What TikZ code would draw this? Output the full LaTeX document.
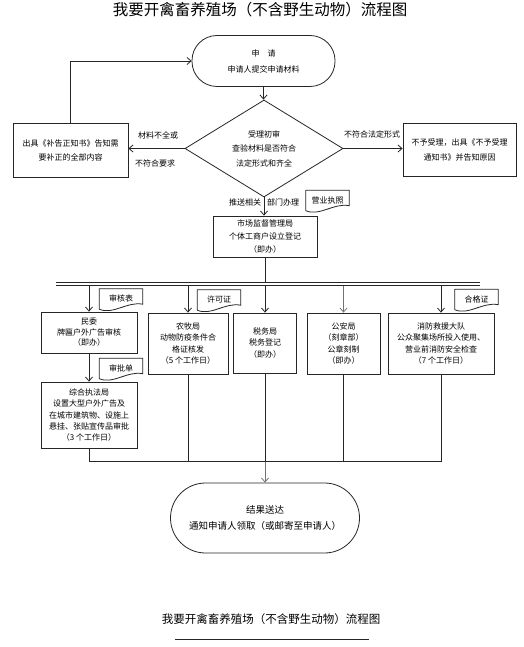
\documentclass[tikz,border=0pt]{standalone}
\usepackage{fontspec}
\setmainfont{Noto Sans CJK SC}
\usetikzlibrary{shapes.geometric,arrows.meta,calc}
\newcommand\mydoc[4]{%
  \node[docn] (#1) at (#2,#3) {#4};
  \draw[line] ([yshift=-1pt]#1.south west) -- (#1.north west) -- (#1.north east) -- ([yshift=4pt]#1.south east)
    .. controls ([xshift=-16pt,yshift=7pt]#1.south east) and ([xshift=14pt,yshift=-7pt]#1.south west) .. ([yshift=-1pt]#1.south west);
}
\begin{document}
\begin{tikzpicture}[x=1pt,y=-1pt,
  line/.style={draw=black!85, line width=0.8pt},
  arr/.style={line, -{Straight Barb[length=4pt,width=7pt]}},
  garr/.style={arr, draw=black!55},
  box/.style={line, rectangle, align=center, inner sep=0pt, font=\fontsize{8}{12}\selectfont},
  docn/.style={rectangle, inner sep=0pt, minimum width=43pt, minimum height=19pt, font=\fontsize{8}{10}\selectfont},
  lbl/.style={inner sep=0pt, font=\fontsize{8}{10}\selectfont},
]
\useasboundingbox (0,0) rectangle (524,647);
\fill[white] (0,0) rectangle (524,647);

\node[inner sep=0pt, font=\fontsize{15.5}{18}\selectfont] (title) at (260,10) {我要开禽畜养殖场（不含野生动物）流程图};

\node[box, minimum width=143pt, minimum height=51pt, rounded corners=25pt, font=\fontsize{8}{16}\selectfont] (start) at (263.5,61) {申\quad 请\\申请人提交申请材料};

\node[line, diamond, aspect=1.63, minimum width=158pt, minimum height=97pt, inner sep=0pt, align=center, font=\fontsize{8}{14.5}\selectfont] (check) at (264,148.5) {受理初审\\查验材料是否符合\\法定形式和齐全};

\node[box, minimum width=115pt, minimum height=54pt, font=\fontsize{8}{14}\selectfont] (left) at (70.5,150) {出具《补告正知书》告知需\\要补正的全部内容};
\node[box, minimum width=113pt, minimum height=53pt, font=\fontsize{8}{15}\selectfont] (right) at (459.5,149.5) {不予受理，出具《不予受理\\通知书》并告知原因};

\draw[arr] (left.north) -- (left.north |- start.west) -- (start.west);
\draw[arr] (start.south) -- (start.south |- check.north);
\draw[arr] (check.west) -- (check.west -| left.east);
\node[lbl] (l1) at (158,135) {材料不全或};
\node[lbl] (l2) at (155,163) {不符合要求};
\draw[arr] (check.east) -- (check.east -| right.west);
\node[lbl] (l3) at (372,134) {不符合法定形式};

\node[box, minimum width=104pt, minimum height=41pt, font=\fontsize{8}{13}\selectfont] (market) at (265,236.5) {市场监督管理局\\个体工商户设立登记\\（即办）};
\draw[arr] (check.south) -- (check.south |- market.north);
\node[lbl] (l4) at (245,202) {推送相关};
\node[lbl] (l5) at (283,202) {部门办理};
\mydoc{d1}{327.5}{200}{营业执照}

\coordinate (b1L) at (56,282);
\coordinate (b1R) at (480,282);
\coordinate (b2L) at (56,285.5);
\coordinate (b2R) at (480,285.5);
\draw[line] (b1L) -- (b1R);
\draw[line] (b2L) -- (b2R);
\draw[line] (market.south) -- (market.south |- b1L);

\node[box, minimum width=96pt, minimum height=41pt, font=\fontsize{8}{10.5}\selectfont] (minwei) at (89,332.5) {民委\\牌匾户外广告审核\\（即办）};
\node[box, minimum width=80pt, minimum height=61pt, font=\fontsize{8}{11.5}\selectfont] (nongmu) at (188,343.5) {农牧局\\动物防疫条件合\\格证核发\\（5 个工作日）};
\node[box, minimum width=63pt, minimum height=60pt, font=\fontsize{8}{11.5}\selectfont] (shuiwu) at (265,343) {税务局\\税务登记\\（即办）};
\node[box, minimum width=73pt, minimum height=61pt, font=\fontsize{8}{11.5}\selectfont] (gongan) at (343.5,343.5) {公安局\\（刻章部）\\公章刻制\\（即办）};
\node[box, minimum width=106pt, minimum height=61pt, font=\fontsize{8}{11.5}\selectfont] (xiaofang) at (441,343.5) {消防救援大队\\公众聚集场所投入使用、\\营业前消防安全检查\\（7 个工作日）};
\node[box, minimum width=96pt, minimum height=66pt, font=\fontsize{8}{11.3}\selectfont] (zonghe) at (89,415) {综合执法局\\设置大型户外广告及\\在城市建筑物、设施上\\悬挂、张贴宣传品审批\\（3 个工作日）};

\draw[arr] (minwei.north |- b2L) -- (minwei.north);
\draw[arr] (nongmu.north |- b2L) -- (nongmu.north);
\draw[arr] (shuiwu.north |- b2L) -- (shuiwu.north);
\draw[garr] (gongan.north |- b2L) -- (gongan.north);
\draw[arr] (xiaofang.north |- b2L) -- (xiaofang.north);
\draw[arr] (minwei.south) -- (zonghe.north);

\mydoc{d2}{121}{298.5}{审核表}
\mydoc{d3}{219}{299.5}{许可证}
\mydoc{d4}{476.5}{299}{合格证}
\mydoc{d5}{121}{368}{审批单}

\node[box, minimum width=189pt, minimum height=70pt, rounded corners=35pt, font=\fontsize{9.5}{16}\selectfont] (end) at (265,518) {结果送达\\通知申请人领取（或邮寄至申请人）};

\coordinate (cL) at (88,461.5);
\draw[line] (zonghe.south) -- (zonghe.south |- cL) -- (xiaofang.south |- cL) -- (xiaofang.south);
\draw[line] (nongmu.south) -- (nongmu.south |- cL);
\draw[line] (gongan.south) -- (gongan.south |- cL);
\draw[line] (shuiwu.south) -- (shuiwu.south |- cL);
\draw[garr] (end.north |- cL) -- (end.north);

\node[inner sep=0pt, font=\fontsize{11.5}{14}\selectfont] (title2) at (271,619) {我要开禽畜养殖场（不含野生动物）流程图};
\coordinate (u1) at (175,639);
\coordinate (u2) at (369,639);
\draw[line, line width=1pt] (u1) -- (u2);
\end{tikzpicture}
\end{document}
